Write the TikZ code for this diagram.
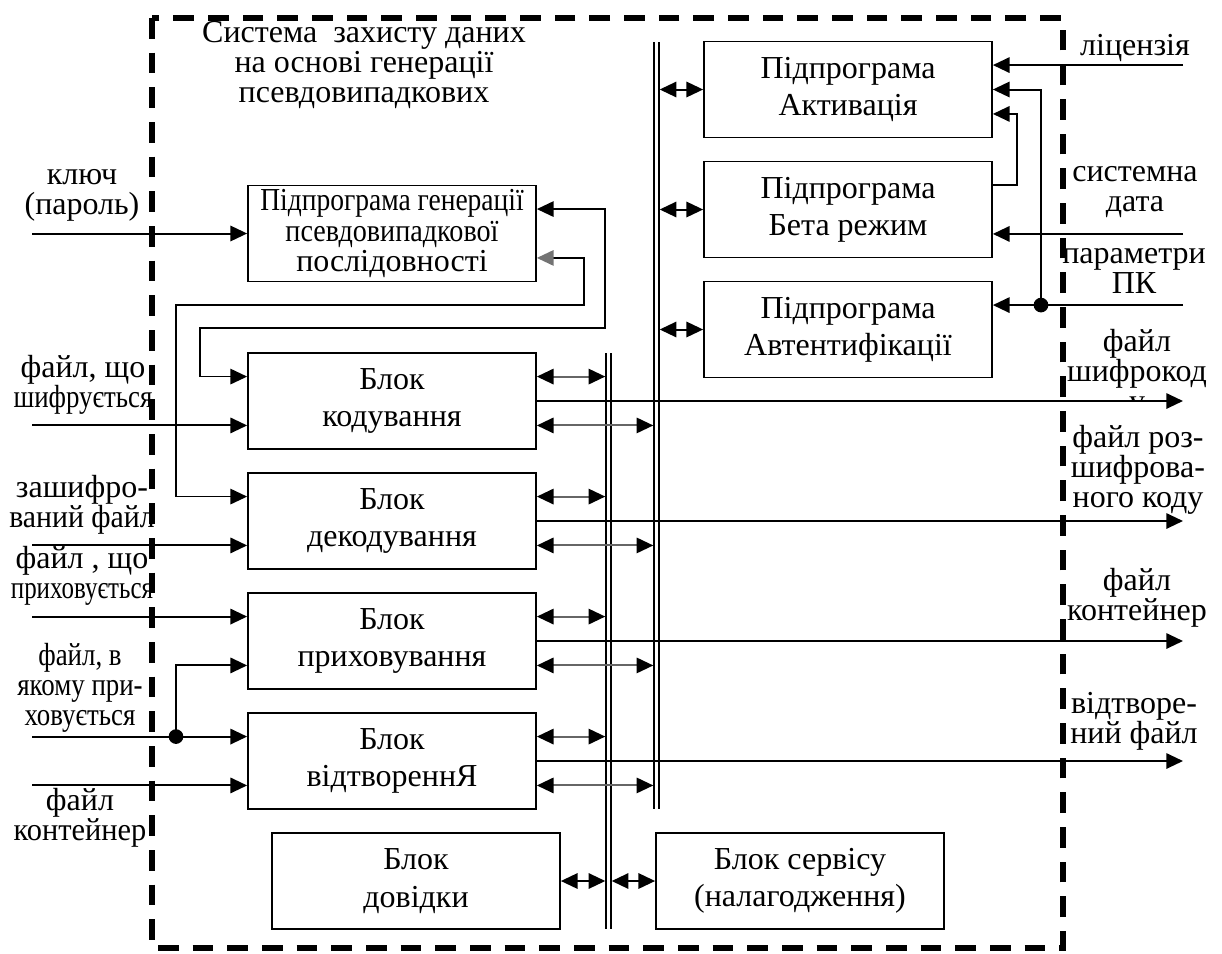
\documentclass[tikz,border=0pt]{standalone}
\usepackage{fontspec}
\setmainfont{Liberation Serif}
\usepackage{graphicx}
\usetikzlibrary{arrows.meta}

% horizontally condensed text
\newcommand{\nrw}[2][0.84]{\scalebox{#1}[1]{#2}}

\begin{document}
\begin{tikzpicture}[x=0.75pt,y=-0.75pt,
  >={Triangle[length=12.5pt,width=11.5pt]},
  blk/.style={draw,line width=1.3pt,minimum width=216pt,minimum height=72pt,
    inner sep=0pt,align=center,font=\fontsize{24}{28}\selectfont},
  lbl/.style={align=center,inner sep=0pt,font=\fontsize{24}{22.5}\selectfont},
  arr/.style={->,line width=1.5pt},
  darr/.style={<->,line width=1.5pt},
  gdarr/.style={{Triangle[length=12.5pt,width=11.5pt,black]}-{Triangle[length=12.5pt,width=11.5pt,black]},
    line width=1.5pt,draw=black!60},
  bus/.style={double,double distance=1.8pt,line width=1.5pt},
  border/.style={line width=4pt,dash pattern=on 15.5pt off 10.5pt},
  dot/.style={fill=black}
]
\useasboundingbox (0,0) rectangle (1222,954);

% outer boundary of the system
\draw[border] (152,18) rectangle (1063,948);

% title
\node[lbl] (title) at (364,65) {Система~ захисту даних\\на основі генерації\\псевдовипадкових};

% functional blocks
\node[blk,font=\fontsize{24}{23}\selectfont] (gen) at (392,233.5)
  {\nrw[0.86]{Підпрограма генерації}\\\nrw[0.88]{псевдовипадкової}\\послідовності};
\node[blk] (cod) at (392,401) {Блок\\кодування};
\node[blk] (dec) at (392,521) {Блок\\декодування};
\node[blk] (hid) at (392,641) {Блок\\приховування};
\node[blk] (rec) at (392,761) {Блок\\відтвореннЯ};
\node[blk] (help) at (416,881) {Блок\\довідки};
\node[blk] (act) at (848,89.5) {Підпрограма\\Активація};
\node[blk] (beta) at (848,209.5) {Підпрограма\\Бета режим};
\node[blk] (auth) at (848,329.5) {Підпрограма\\Автентифікації};
\node[blk] (serv) at (800,881) {Блок сервісу\\(налагодження)};

% quarter points on the block sides
\foreach \b in {gen,cod,dec,hid,rec,act,beta,auth}{
  \path (\b.north east) -- (\b.south east) coordinate[pos=.25] (\b-e1) coordinate[pos=.75] (\b-e3);
  \path (\b.north west) -- (\b.south west) coordinate[pos=.25] (\b-w1) coordinate[pos=.75] (\b-w3);
}

% buses
\coordinate (busAt) at (608.5,353);
\coordinate (busAb) at (608.5,929);
\coordinate (busBt) at (656.5,42);
\coordinate (busBb) at (656.5,809);
\draw[bus] (busAt) -- (busAb);
\draw[bus] (busBt) -- (busBb);

% outer ends of the external lines
\coordinate (inL) at (32,0);
\coordinate (inR) at (1183,0);
\coordinate (split) at (176,0);
\coordinate (join) at (1041,0);
\coordinate (loop) at (1017,0);

% blocks to buses and outputs
\foreach \b in {cod,dec,hid,rec}{
  \draw[gdarr,shorten >=2.4pt] (\b-e1) -- (\b-e1 -| busAt);
  \draw[gdarr,shorten >=2.4pt] (\b-e3) -- (\b-e3 -| busBt);
  \draw[arr] (\b.east) -- (\b.east -| inR);
}
\foreach \b in {act,beta,auth}{
  \draw[darr,shorten <=2.4pt] (\b.west -| busBt) -- (\b.west);
}
\draw[darr,shorten >=2.4pt] (help.east) -- (help.east -| busAt);
\draw[darr,shorten <=2.4pt] (serv.west -| busAt) -- (serv.west);

% generator links
\coordinate (fa1) at (605,328);
\coordinate (fa2) at (200,328);
\coordinate (fb1) at (584,305);
\coordinate (fb2) at (176,305);
\draw[<->,line width=1.3pt] (gen-e1) -| (fa1) -- (fa2) |- (cod-w1);
\draw[{Triangle[length=12.5pt,width=11.5pt,black!55]}-{Triangle[length=12.5pt,width=11.5pt]},line width=1.3pt]
  (gen-e3) -| (fb1) -- (fb2) |- (dec-w1);

% external inputs on the left
\draw[arr] (inL |- gen.west) -- (gen.west);
\draw[arr] (inL |- cod-w3) -- (cod-w3);
\draw[arr] (inL |- dec-w3) -- (dec-w3);
\draw[arr] (inL |- hid-w1) -- (hid-w1);
\draw[arr] (inL |- rec-w1) -- (rec-w1);
\fill[dot] (split |- rec-w1) circle (5.5pt);
\draw[arr] (split |- rec-w1) |- (hid-w3);
\draw[arr] (inL |- rec-w3) -- (rec-w3);

% external inputs on the right
\draw[arr] (inR |- act-e1) -- (act-e1);
\draw[arr] (inR |- beta-e3) -- (beta-e3);
\draw[arr] (inR |- auth-e1) -- (auth-e1);
\fill[dot] (join |- auth-e1) circle (5.5pt);
\draw[arr] (join |- auth-e1) |- (act.east);
\draw[arr] (beta-e1) -- (beta-e1 -| loop) |- (act-e3);

% labels on the left
\node[lbl] (lKey) at (82,195) {ключ\\(пароль)};
\node[lbl] (lEnc) at (83,385) {файл, що\\\nrw{шифрується}};
\node[lbl] (lEncd) at (82,505) {зашифро-\\\nrw[0.93]{ваний файл}};
\node[lbl] (lHide) at (82,576) {файл , що\\\nrw[0.78]{приховується}};
\node[lbl] (lHost) at (80,688) {\nrw{файл, в}\\\nrw{якому при-}\\\nrw{ховується}};
\node[lbl] (lCont) at (80,818) {файл\\\nrw[0.95]{контейнер}};

% labels on the right
\node[lbl] (lLic) at (1135,48) {ліцензія};
\node[lbl] (lDate) at (1135,192) {системна\\дата};
\node[lbl] (lPc) at (1134,271) {параметри\\ПК};
\begin{scope}
  \clip (1050,320) rectangle (1222,399);
  \node[lbl] (lCip) at (1137,374) {файл\\шифрокод\\у};
\end{scope}
\node[lbl] (lDec) at (1138,470) {файл роз-\\шифрова-\\ного коду};
\node[lbl] (lOut) at (1137,598) {файл\\контейнер};
\node[lbl] (lRst) at (1134,721) {відтворе-\\ний файл};
\end{tikzpicture}
\end{document}
